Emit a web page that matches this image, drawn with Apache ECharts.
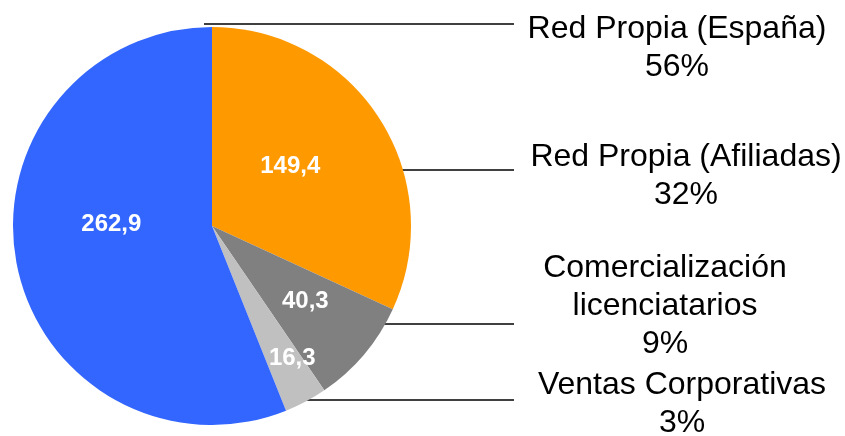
<!DOCTYPE html>
<html>
<head>
<meta charset="utf-8">
<script src="https://cdn.jsdelivr.net/npm/echarts@6/dist/echarts.min.js"></script>
<style>
  html, body { margin: 0; padding: 0; background: #fff; }
  #chart1 { width: 845px; height: 436px; }
</style>
</head>
<body>
<div id="chart1"></div>
<script>
// datos (orden horario desde las 12)
var categories = ['Red Propia (Afiliadas)', 'Comercialización\nlicenciatarios', 'Ventas Corporativas', 'Red Propia (España)'];
var values = [149.4, 40.3, 16.3, 262.9];
var colors = ['#FF9900', '#808080', '#C0C0C0', '#3366FF'];

// posicion de las etiquetas / lineas guia
var labelPos = [[686, 176], [665, 306], [682, 404], [677, 48]];
var lineY = [170, 324, 400, 24];
var innerOffset = [[-8, -4], [15, 9], [32, 42], [0, -21]];

var cx = 212, cy = 226, R = 199;
var lineEndX = 514;

function _initChart () {
    var myChart = echarts.init(document.getElementById('chart1'));
    var data = categories.map(function (name, i) {
        return {
            name: name,
            value: values[i],
            itemStyle: { color: colors[i] },
            label: { offset: innerOffset[i] }
        };
    });
    var dataOuter = categories.map(function (name, i) {
        return { name: name, value: values[i] };
    });
    var option = {
        animation: false,
        series: [
            {
                type: 'pie',
                center: [cx, cy],
                radius: R,
                startAngle: 90,
                clockwise: true,
                avoidLabelOverlap: false,
                silent: true,
                label: {
                    position: 'inside',
                    color: '#fff',
                    fontFamily: 'Arial, "Liberation Sans", sans-serif',
                    fontWeight: 'bold',
                    fontSize: 24,
                    formatter: function (p) {
                        return p.value.toFixed(1).replace('.', ',');
                    }
                },
                labelLine: { show: false },
                data: data
            },
            {
                type: 'pie',
                center: [cx, cy],
                radius: R,
                startAngle: 90,
                clockwise: true,
                avoidLabelOverlap: false,
                silent: true,
                percentPrecision: 0,
                itemStyle: { color: 'transparent' },
                label: {
                    position: 'outside',
                    color: '#000',
                    fontFamily: 'Arial, "Liberation Sans", sans-serif',
                    fontSize: 32,
                    lineHeight: 38,
                    align: 'center',
                    formatter: '{b}\n{d}%'
                },
                labelLine: {
                    show: true,
                    lineStyle: { color: '#000', width: 1.5 }
                },
                labelLayout: function (params) {
                    var i = params.dataIndex;
                    var y = lineY[i];
                    var dy = y - cy;
                    var x0 = Math.abs(dy) < R ? cx + Math.sqrt(R * R - dy * dy) - 4 : cx - 8;
                    return {
                        x: labelPos[i][0],
                        y: labelPos[i][1],
                        align: 'center',
                        verticalAlign: 'middle',
                        labelLinePoints: [[x0, y], [(x0 + lineEndX) / 2, y], [lineEndX, y]]
                    };
                },
                data: dataOuter
            }
        ]
    };
    myChart.setOption(option);
    window.onresize = myChart.resize;
}
_initChart();
</script>
</body>
</html>
